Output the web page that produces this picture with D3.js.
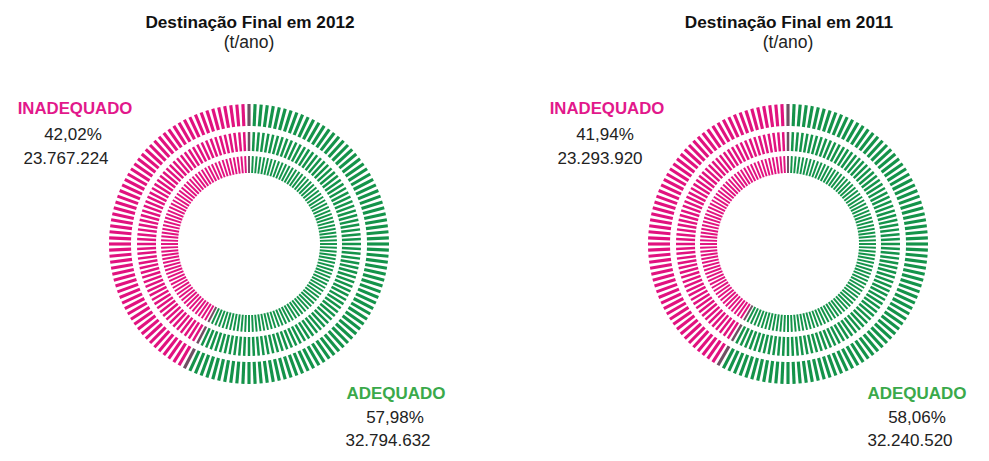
<!DOCTYPE html>
<html>
<head>
<meta charset="utf-8">
<script src="https://cdn.jsdelivr.net/npm/d3@7"></script>
<style>
  html, body { margin: 0; padding: 0; background: #ffffff; }
  svg { display: block; }
  text { font-family: "Liberation Sans", Arial, Helvetica, sans-serif; }
</style>
</head>
<body>
<div id="chart"></div>
<script>
// ---- data ----
const years = ["2012", "2011"];
const titles = ["Destinação Final em 2012", "Destinação Final em 2011"];
const subtitle = "(t/ano)";
const categories = ["ADEQUADO", "INADEQUADO"];
const adequadoPct = [57.98, 58.06];
const inadequadoPct = [42.02, 41.94];
const adequadoTon = [32794632, 32240520];
const inadequadoTon = [23767224, 23293920];
const ticksPerRing = 144;

// ---- layout ----
const W = 989, H = 461;
const centersX = [249, 788];
const centerY = 244;
const rings = [
  { r0: 118, r1: 140 },
  { r0: 93, r1: 112 },
  { r0: 71, r1: 88 }
];
const colGreen = "#14934a";
const colMagenta = "#e1127f";
const colMix = "#6f4f63";
const labelGreen = "#3aa94a";
const labelMagenta = "#e2188b";

const locale = d3.formatLocale({ decimal: ",", thousands: ".", grouping: [3], currency: ["R$", ""] });
const fmtInt = locale.format(",d");
const fmtPct = locale.format(".2f");

const svg = d3.select("#chart").append("svg").attr("width", W).attr("height", H);

const angle = d3.scaleLinear().domain([0, 100]).range([0, 2 * Math.PI]);
const tickIdx = d3.range(ticksPerRing);
const step = 2 * Math.PI / ticksPerRing;

// label placement per chart
const inadLabelX = [[75, 73, 66], [607, 605, 600]];
const adLabelX = [[396, 395, 388], [917, 917, 910]];

years.forEach((yr, k) => {
  const g = svg.append("g").attr("transform", `translate(${centersX[k]},${centerY})`);
  const boundary = angle(adequadoPct[k]);
  const nearestBoundary = Math.round(boundary / step) % ticksPerRing;

  rings.forEach(ring => {
    const rm = (ring.r0 + ring.r1) / 2;
    const sw = step * rm * 0.56;
    g.selectAll(null)
      .data(tickIdx)
      .enter()
      .append("line")
      .attr("x1", i => ring.r0 * Math.sin(i * step))
      .attr("y1", i => -ring.r0 * Math.cos(i * step))
      .attr("x2", i => ring.r1 * Math.sin(i * step))
      .attr("y2", i => -ring.r1 * Math.cos(i * step))
      .attr("stroke-width", sw)
      .attr("stroke", i => {
        if (i === 0 || i === nearestBoundary) return colMix;
        return (i * step < boundary) ? colGreen : colMagenta;
      });
  });

  // titles
  svg.append("text")
    .attr("x", centersX[k] + 1).attr("y", 28)
    .attr("text-anchor", "middle")
    .attr("font-size", 17.2).attr("font-weight", "bold").attr("fill", "#111")
    .text(titles[k]);
  svg.append("text")
    .attr("x", centersX[k]).attr("y", 48)
    .attr("text-anchor", "middle")
    .attr("font-size", 17.5).attr("fill", "#222")
    .text(subtitle);

  // INADEQUADO label block
  const ix = inadLabelX[k];
  svg.append("text").attr("x", ix[0]).attr("y", 114).attr("text-anchor", "middle")
    .attr("font-size", 16.8).attr("font-weight", "bold").attr("fill", labelMagenta)
    .text(categories[1]);
  svg.append("text").attr("x", ix[1]).attr("y", 140).attr("text-anchor", "middle")
    .attr("font-size", 17).attr("fill", "#222")
    .text(fmtPct(inadequadoPct[k]) + "%");
  svg.append("text").attr("x", ix[2]).attr("y", 164).attr("text-anchor", "middle")
    .attr("font-size", 17).attr("fill", "#222")
    .text(fmtInt(inadequadoTon[k]));

  // ADEQUADO label block
  const ax = adLabelX[k];
  svg.append("text").attr("x", ax[0]).attr("y", 399).attr("text-anchor", "middle")
    .attr("font-size", 17).attr("font-weight", "bold").attr("fill", labelGreen)
    .text(categories[0]);
  svg.append("text").attr("x", ax[1]).attr("y", 423).attr("text-anchor", "middle")
    .attr("font-size", 17).attr("fill", "#222")
    .text(fmtPct(adequadoPct[k]) + "%");
  svg.append("text").attr("x", ax[2]).attr("y", 446).attr("text-anchor", "middle")
    .attr("font-size", 17).attr("fill", "#222")
    .text(fmtInt(adequadoTon[k]));
});
</script>
</body>
</html>
